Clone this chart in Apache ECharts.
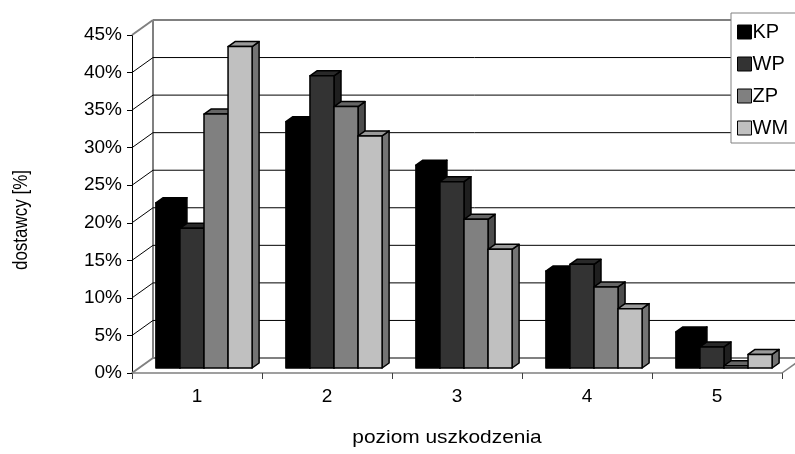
<!DOCTYPE html>
<html>
<head>
<meta charset="utf-8">
<script src="https://cdn.jsdelivr.net/npm/echarts@6/dist/echarts.min.js"></script>
<style>
  html, body { margin: 0; padding: 0; background: #fff; }
  #chart { width: 795px; height: 454px; }
</style>
</head>
<body>
<div id="chart"></div>
<script>
// Udział dostawców wg poziomu uszkodzenia
const categories = ['1', '2', '3', '4', '5'];
const seriesNames = ['KP', 'WP', 'ZP', 'WM'];
const KP = [22.0, 32.8, 27.0, 12.9, 4.8];
const WP = [18.6, 38.9, 24.8, 13.8, 2.8];
const ZP = [33.8, 34.8, 19.8, 10.8, 0.3];
const WM = [42.8, 30.9, 15.8, 7.9, 1.8];
const yTicks = [0, 5, 10, 15, 20, 25, 30, 35, 40, 45];

const seriesValues = [KP, WP, ZP, WM];
const seriesColors = ['#000000', '#333333', '#808080', '#c0c0c0'];

// oblique depth of the plot box (front plane -> back wall)
const DX = 21, DY = -15;
const FONT = 'Liberation Sans, Arial, sans-serif';

function shade(hex, f) {
  const n = parseInt(hex.slice(1), 16);
  const r = Math.round(((n >> 16) & 255) * f);
  const g = Math.round(((n >> 8) & 255) * f);
  const b = Math.round((n & 255) * f);
  return 'rgb(' + r + ',' + g + ',' + b + ')';
}

const chart = echarts.init(document.getElementById('chart'), null, { renderer: 'canvas' });

// walls, floor and gridlines of the 3D box
function renderFrame(params, api) {
  const t = api.value(1);
  const band = api.size([1, 0])[0];
  const p = api.coord([0, t]);
  const xl = p[0] - band / 2;
  const xr = api.coord([categories.length - 1, t])[0] + band / 2;
  const y = p[1];
  const edge = (t === yTicks[0] || t === yTicks[yTicks.length - 1]);
  const st = edge ? { stroke: '#808080', lineWidth: 2 } : { stroke: '#000', lineWidth: 1 };
  const children = [
    { type: 'line', shape: { x1: xl + DX, y1: y + DY, x2: xr + DX + 30, y2: y + DY }, style: st },
    { type: 'line', shape: { x1: xl, y1: y, x2: xl + DX, y2: y + DY }, style: st }
  ];
  if (t === yTicks[0]) {
    const yTop = api.coord([0, yTicks[yTicks.length - 1]])[1];
    children.push({ type: 'line', shape: { x1: xl + DX, y1: y + DY, x2: xl + DX, y2: yTop + DY },
      style: { stroke: '#808080', lineWidth: 2 } });
    children.push({ type: 'line', shape: { x1: xr, y1: y, x2: xr + DX, y2: y + DY },
      style: { stroke: '#808080', lineWidth: 1.5 } });
  }
  return { type: 'group', children: children };
}

function barRenderer(k) {
  const color = seriesColors[k];
  return function (params, api) {
    const i = api.value(0);
    const v = api.value(1);
    const band = api.size([1, 0])[0];
    const base = api.coord([i, 0]);
    const top = api.coord([i, v]);
    const w = band * 0.74 / seriesNames.length;
    const ox = DX / 3, oy = DY / 3;
    const x0 = base[0] - w * seriesNames.length / 2 + k * w + ox;
    const x1 = x0 + w;
    const yb = base[1] + oy;
    const yt = top[1] + oy;
    const line = { stroke: '#000', lineWidth: 1.5, lineJoin: 'round' };
    return {
      type: 'group',
      children: [
        { type: 'polygon', shape: { points: [[x1, yt], [x1 + ox, yt + oy], [x1 + ox, yb + oy], [x1, yb]] },
          style: Object.assign({ fill: shade(color, 0.6) }, line) },
        { type: 'polygon', shape: { points: [[x0, yt], [x1, yt], [x1 + ox, yt + oy], [x0 + ox, yt + oy]] },
          style: Object.assign({ fill: shade(color, 0.8) }, line) },
        { type: 'rect', shape: { x: x0, y: yt, width: w, height: yb - yt },
          style: Object.assign({ fill: color }, line) }
      ]
    };
  };
}

const series = [{
  type: 'custom',
  name: '_frame',
  renderItem: renderFrame,
  data: yTicks.map(t => [0, t]),
  clip: false,
  silent: true,
  z: 1
}];

seriesNames.forEach((name, k) => {
  series.push({
    type: 'custom',
    name: name,
    renderItem: barRenderer(k),
    data: seriesValues[k].map((v, i) => [i, v]),
    itemStyle: { color: seriesColors[k] },
    clip: false,
    z: 3
  });
});

chart.setOption({
  animation: false,
  backgroundColor: '#ffffff',
  textStyle: { fontFamily: FONT },
  grid: { left: 132, top: 35, width: 650, height: 338, containLabel: false },
  xAxis: {
    type: 'category',
    data: categories,
    boundaryGap: true,
    axisLine: { lineStyle: { color: '#808080', width: 1.5 } },
    axisTick: { show: true, length: 6, lineStyle: { color: '#404040', width: 1 } },
    axisLabel: { margin: 14, color: '#000', fontSize: 19, fontFamily: FONT },
    splitLine: { show: false }
  },
  yAxis: {
    type: 'value',
    min: 0,
    max: 45,
    interval: 5,
    axisLine: { show: true, lineStyle: { color: '#000', width: 1 } },
    axisTick: { show: true, length: 5, lineStyle: { color: '#000', width: 1 } },
    axisLabel: { formatter: '{value}%', margin: 10, color: '#000', fontSize: 19, fontFamily: FONT },
    splitLine: { show: false }
  },
  legend: {
    data: seriesNames,
    orient: 'vertical',
    left: 731,
    top: 13,
    padding: [9, 20, 5, 6],
    itemGap: 12,
    itemWidth: 14,
    itemHeight: 14,
    icon: 'rect',
    itemStyle: { borderColor: '#000', borderWidth: 1 },
    backgroundColor: '#fff',
    borderColor: '#808080',
    borderWidth: 1,
    textStyle: { color: '#000', fontSize: 20, fontFamily: FONT, padding: [0, 0, 0, -4] },
    selectedMode: false
  },
  graphic: [
    { type: 'text', x: 22, y: 220, rotation: Math.PI / 2, scaleY: 1.15,
      style: { text: 'dostawcy [%]', font: '17px ' + FONT, fill: '#000', textAlign: 'center', textVerticalAlign: 'middle' } },
    { type: 'text', x: 447, y: 438, scaleX: 1.1,
      style: { text: 'poziom uszkodzenia', font: '19px ' + FONT, fill: '#000', textAlign: 'center', textVerticalAlign: 'middle' } }
  ],
  series: series
});
</script>
</body>
</html>
